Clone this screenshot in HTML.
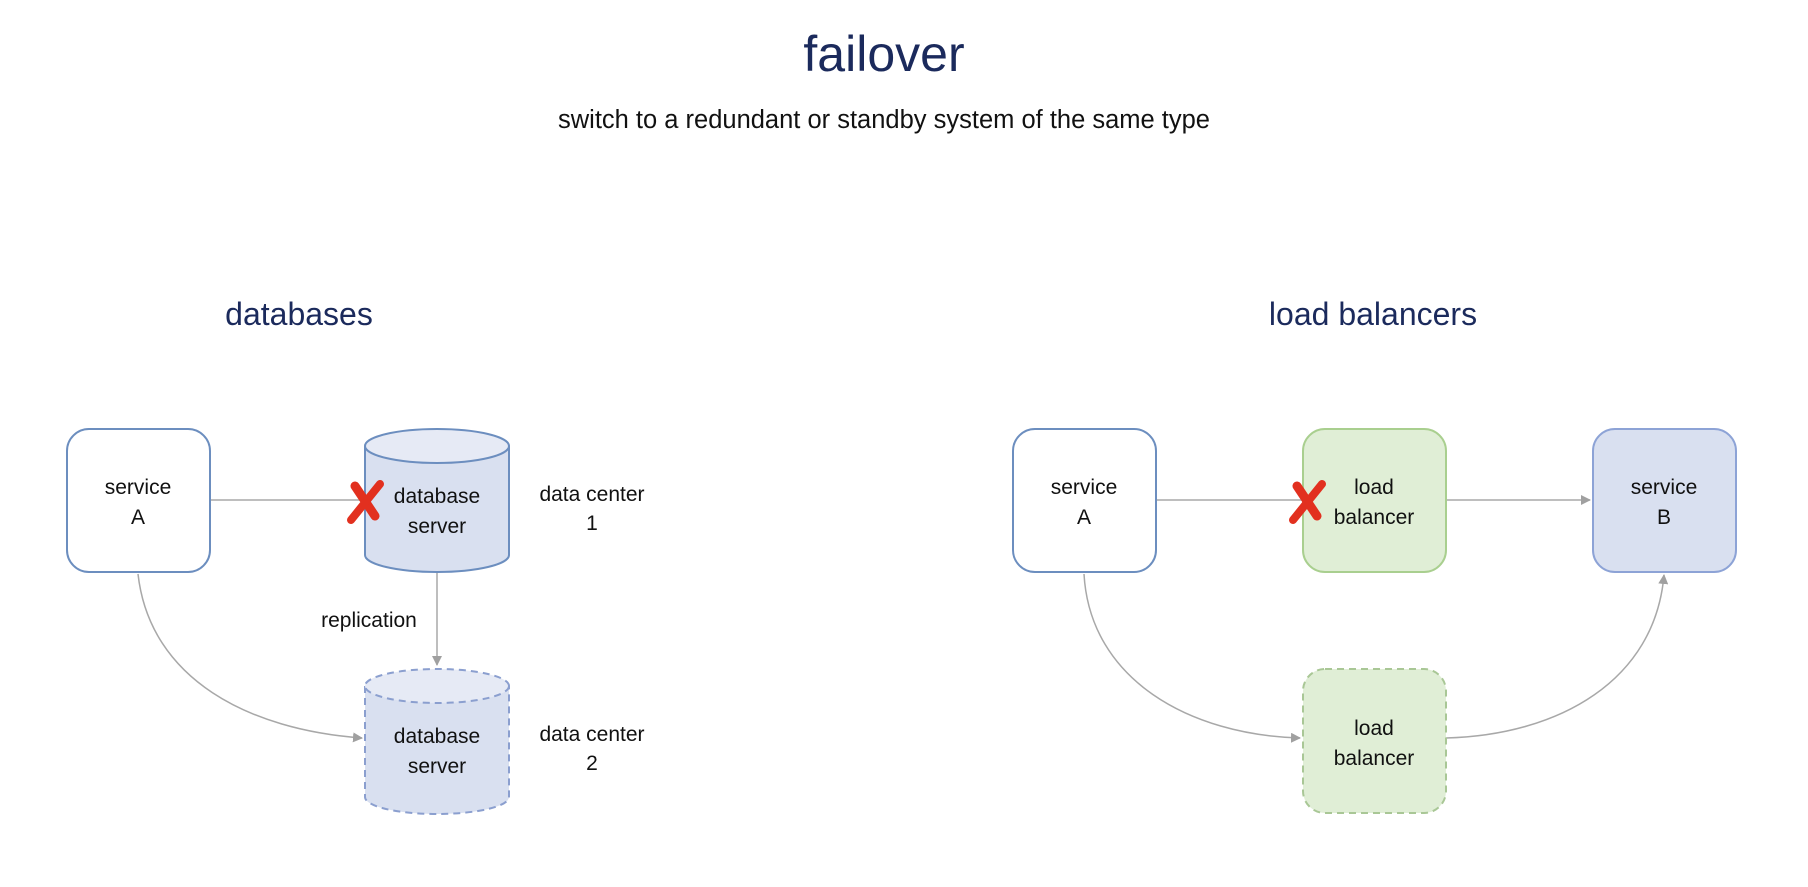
<!DOCTYPE html>
<html><head><meta charset="utf-8"><style>
body{margin:0;background:#fff;}
svg{display:block;font-family:"Liberation Sans",sans-serif;}
</style></head><body>
<svg width="1808" height="887" viewBox="0 0 1808 887" xmlns="http://www.w3.org/2000/svg">
<defs>
<marker id="ar" markerWidth="10" markerHeight="10" refX="9" refY="5" orient="auto" markerUnits="userSpaceOnUse">
<path d="M0,0 L10,5 L0,10 z" fill="#a0a0a0"/></marker>
</defs>
<text x="884" y="71" text-anchor="middle" font-size="50" fill="#1b2a5c">failover</text>
<text x="884" y="128" text-anchor="middle" font-size="25.5" fill="#111">switch to a redundant or standby system of the same type</text>
<text x="299" y="325" text-anchor="middle" font-size="32" fill="#1b2a5c">databases</text>
<text x="1373" y="325" text-anchor="middle" font-size="32" fill="#1b2a5c">load balancers</text>

<g stroke="#a8a8a8" stroke-width="1.5" fill="none">
<line x1="210" y1="500" x2="364" y2="500"/>
<line x1="437" y1="572" x2="437" y2="665" marker-end="url(#ar)"/>
<path d="M138,574 C150,680 250,730 362,738" marker-end="url(#ar)"/>
<line x1="1156" y1="500" x2="1302" y2="500"/>
<line x1="1446" y1="500" x2="1590" y2="500" marker-end="url(#ar)"/>
<path d="M1084,574 C1090,680 1190,735 1300,738" marker-end="url(#ar)"/>
<path d="M1446,738 C1560,735 1655,680 1664,575" marker-end="url(#ar)"/>
</g>

<rect x="67" y="429" width="143" height="143" rx="22" fill="#fff" stroke="#6c8ebf" stroke-width="2"/>
<text x="138" y="494" text-anchor="middle" font-size="21" fill="#111">service</text>
<text x="138" y="524" text-anchor="middle" font-size="21" fill="#111">A</text>

<path d="M365,446 L365,555 A72,17 0 0 0 509,555 L509,446" fill="#d9e0f0" stroke="#6c8ebf" stroke-width="2"/>
<ellipse cx="437" cy="446" rx="72" ry="17" fill="#e6eaf5" stroke="#6c8ebf" stroke-width="2"/>
<text x="437" y="503" text-anchor="middle" font-size="21" fill="#111">database</text>
<text x="437" y="533" text-anchor="middle" font-size="21" fill="#111">server</text>

<path d="M365,686 L365,797 A72,17 0 0 0 509,797 L509,686" fill="#d9e0f0" stroke="#8b9fcf" stroke-width="2" stroke-dasharray="7,5"/>
<ellipse cx="437" cy="686" rx="72" ry="17" fill="#e6eaf5" stroke="#8b9fcf" stroke-width="2" stroke-dasharray="7,5"/>
<text x="437" y="743" text-anchor="middle" font-size="21" fill="#111">database</text>
<text x="437" y="773" text-anchor="middle" font-size="21" fill="#111">server</text>

<text x="592" y="501" text-anchor="middle" font-size="21" fill="#111">data center</text>
<text x="592" y="530" text-anchor="middle" font-size="21" fill="#111">1</text>
<text x="592" y="741" text-anchor="middle" font-size="21" fill="#111">data center</text>
<text x="592" y="770" text-anchor="middle" font-size="21" fill="#111">2</text>
<text x="369" y="627" text-anchor="middle" font-size="21" fill="#111">replication</text>

<rect x="1013" y="429" width="143" height="143" rx="22" fill="#fff" stroke="#6c8ebf" stroke-width="2"/>
<text x="1084" y="494" text-anchor="middle" font-size="21" fill="#111">service</text>
<text x="1084" y="524" text-anchor="middle" font-size="21" fill="#111">A</text>

<rect x="1303" y="429" width="143" height="143" rx="22" fill="#e0eed6" stroke="#a9cf8f" stroke-width="2"/>
<text x="1374" y="494" text-anchor="middle" font-size="21" fill="#111">load</text>
<text x="1374" y="524" text-anchor="middle" font-size="21" fill="#111">balancer</text>

<rect x="1593" y="429" width="143" height="143" rx="22" fill="#d9e0f0" stroke="#8da3d6" stroke-width="2"/>
<text x="1664" y="494" text-anchor="middle" font-size="21" fill="#111">service</text>
<text x="1664" y="524" text-anchor="middle" font-size="21" fill="#111">B</text>

<rect x="1303" y="669" width="143" height="144" rx="22" fill="#e0eed6" stroke="#a9c796" stroke-width="2" stroke-dasharray="7,5"/>
<text x="1374" y="735" text-anchor="middle" font-size="21" fill="#111">load</text>
<text x="1374" y="765" text-anchor="middle" font-size="21" fill="#111">balancer</text>

<g stroke="#e2301f" stroke-linecap="round">
<line x1="355" y1="486" x2="375" y2="516" stroke-width="9"/>
<line x1="380" y1="484" x2="351" y2="520" stroke-width="8"/>
<line x1="1297" y1="486" x2="1317" y2="516" stroke-width="9"/>
<line x1="1322" y1="484" x2="1293" y2="520" stroke-width="8"/>
</g>
</svg>
</body></html>
